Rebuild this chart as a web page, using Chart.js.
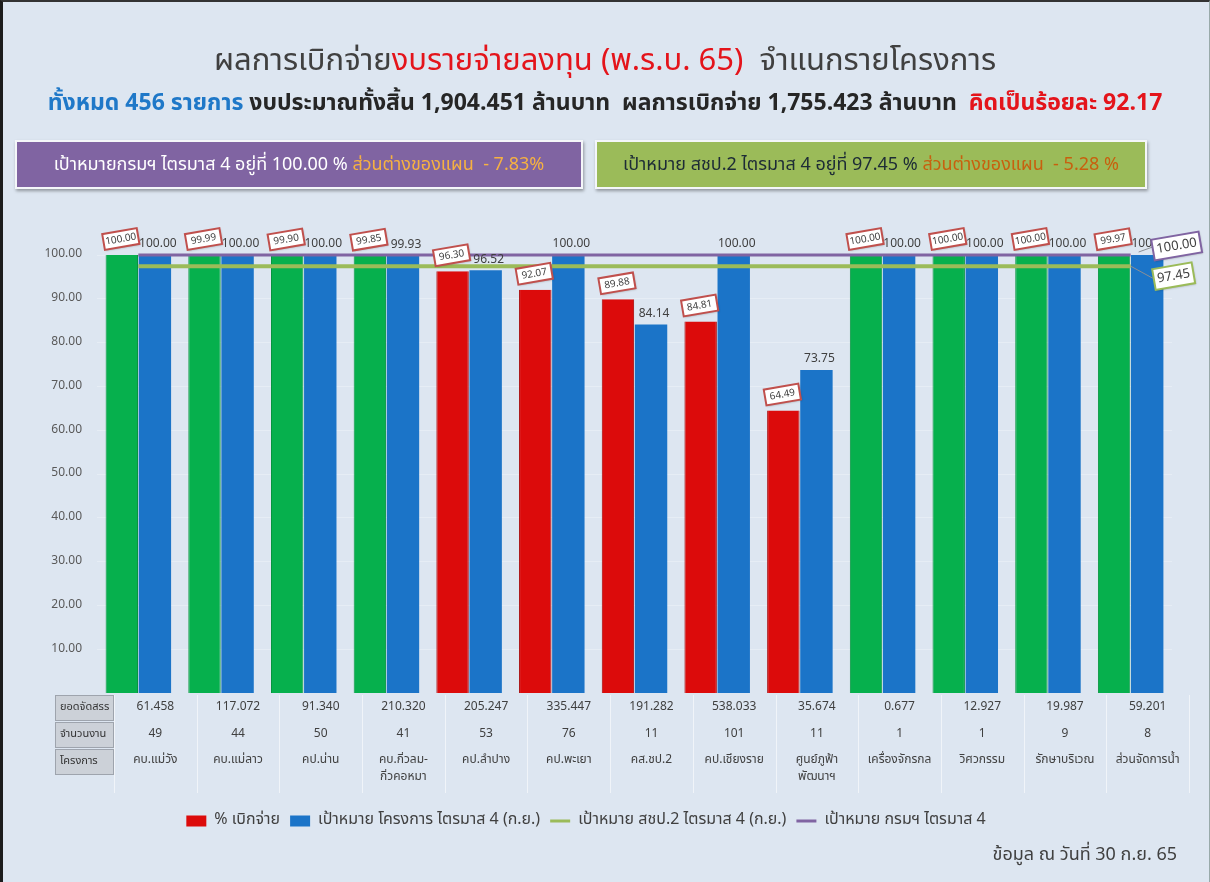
<!DOCTYPE html>
<html><head><meta charset="utf-8">
<script src="https://cdn.jsdelivr.net/npm/chart.js@4"></script>
<style>
html,body{margin:0;padding:0}
body{width:1210px;height:882px;overflow:hidden;position:relative;background:#dde6f1;font-family:"Noto Sans Thai","Noto Sans","Leelawadee UI",Tahoma,"DejaVu Sans",sans-serif}
#frame{position:absolute;left:0;top:0;width:1206px;height:880px;border-left:3px solid #1c1c1c;border-top:2px solid #333;border-right:1px solid #9aa;pointer-events:none;z-index:5}
#title{position:absolute;left:0;top:37px;width:1210px;text-align:center;font-size:31px;color:#404040;white-space:nowrap;z-index:3}
#sub{position:absolute;left:0;top:86px;width:1210px;text-align:center;font-size:23px;font-weight:bold;color:#262626;white-space:nowrap;z-index:3}
.box{position:absolute;top:140px;height:45px;border:2px solid #f4f6f9;box-shadow:1px 2px 3px rgba(0,0,0,.35);display:flex;align-items:center;justify-content:center;font-size:18px;white-space:nowrap;z-index:3}
#b1{left:15px;width:564px;background:#8064a2;color:#fff}
#b2{left:595px;width:548px;background:#9bbb59;color:#1d2b36}
#foot{position:absolute;right:33px;top:841px;font-size:18px;color:#404040;z-index:3}
canvas{position:absolute;left:0;top:0}
</style></head>
<body>
<div id="frame"></div>
<div id="title">ผลการเบิกจ่าย<span style="color:#e4141b">งบรายจ่ายลงทุน (พ.ร.บ. 65)</span>&nbsp; จำแนกรายโครงการ</div>
<div id="sub"><span style="color:#1f78c8">ทั้งหมด 456 รายการ</span> งบประมาณทั้งสิ้น 1,904.451 ล้านบาท&nbsp; ผลการเบิกจ่าย 1,755.423 ล้านบาท&nbsp; <span style="color:#e4141b">คิดเป็นร้อยละ 92.17</span></div>
<div class="box" id="b1">เป้าหมายกรมฯ ไตรมาส 4 อยู่ที่ 100.00 %&nbsp; <span style="color:#f6b141">ส่วนต่างของแผน&nbsp; - 7.83%</span></div>
<div class="box" id="b2">เป้าหมาย สชป.2 ไตรมาส 4 อยู่ที่ 97.45 %&nbsp; <span style="color:#c8600e">ส่วนต่างของแผน&nbsp; - 5.28 %</span></div>
<div id="foot">ข้อมูล ณ วันที่ 30 ก.ย. 65</div>
<div style="position:absolute;left:0;top:0;width:1210px;height:882px;z-index:2"><canvas id="c" width="1210" height="882"></canvas></div>
<script>
// ---- data ----
const projects = ["คบ.แม่วัง","คบ.แม่ลาว","คป.น่าน",["คบ.กิ่วลม-","กิ่วคอหมา"],"คป.ลำปาง","คป.พะเยา","คส.ชป.2","คป.เชียงราย",["ศูนย์ภูฟ้า","พัฒนาฯ"],"เครื่องจักรกล","วิศวกรรม","รักษาบริเวณ","ส่วนจัดการน้ำ"];
const disbursedPct = [100.00, 99.99, 99.90, 99.85, 96.30, 92.07, 89.88, 84.81, 64.49, 100.00, 100.00, 100.00, 99.97];
const projectTarget = [100.00, 100.00, 100.00, 99.93, 96.52, 100.00, 84.14, 100.00, 73.75, 100.00, 100.00, 100.00, 100.00];
const regionTarget = [97.45, 97.45, 97.45, 97.45, 97.45, 97.45, 97.45, 97.45, 97.45, 97.45, 97.45, 97.45, 97.45];
const deptTarget = [100, 100, 100, 100, 100, 100, 100, 100, 100, 100, 100, 100, 100];
const budgetAlloc = ["61.458","117.072","91.340","210.320","205.247","335.447","191.282","538.033","35.674","0.677","12.927","19.987","59.201"];
const jobCount = ["49","44","50","41","53","76","11","101","11","1","1","9","8"];
const rowLabels = ["ยอดจัดสรร","จำนวนงาน","โครงการ"];
const yTicks = [10,20,30,40,50,60,70,80,90,100];
const seriesNames = ["% เบิกจ่าย","เป้าหมาย โครงการ ไตรมาส 4 (ก.ย.)","เป้าหมาย สชป.2 ไตรมาส 4 (ก.ย.)","เป้าหมาย กรมฯ ไตรมาส 4"];

const FONT = '"Noto Sans Thai","Noto Sans","Leelawadee UI",Tahoma,"DejaVu Sans",sans-serif';
Chart.defaults.font.family = FONT;
const GREEN='#06b04d', RED='#dc0b0b', BLUE='#1b74c8', LGREEN='#9bbb59', PURPLE='#8064a2';
const thr = regionTarget[0];
const barColors = disbursedPct.map(v => v >= thr ? GREEN : RED);
const fmt = v => v.toFixed(2);

function roundBox(ctx, cx, cy, w, h, ang, border, text, font, lw){
  ctx.save();
  ctx.translate(cx, cy); ctx.rotate(ang);
  ctx.shadowColor='rgba(0,0,0,0.25)'; ctx.shadowBlur=2; ctx.shadowOffsetX=1; ctx.shadowOffsetY=1;
  ctx.fillStyle='#fff'; ctx.fillRect(-w/2,-h/2,w,h);
  ctx.shadowColor='transparent';
  ctx.lineWidth=lw; ctx.strokeStyle=border; ctx.strokeRect(-w/2,-h/2,w,h);
  ctx.fillStyle='#404040'; ctx.font=font; ctx.textAlign='center'; ctx.textBaseline='middle';
  ctx.fillText(text,0,1);
  ctx.restore();
}

const labelPlugin = {
  id:'labels',
  afterDatasetsDraw(chart){
    const ctx = chart.ctx;
    const mT = chart.getDatasetMeta(1), mD = chart.getDatasetMeta(0);
    const mG = chart.getDatasetMeta(2), mP = chart.getDatasetMeta(3);
    ctx.save();
    ctx.font = '12px '+FONT; ctx.fillStyle='#404040'; ctx.textAlign='center'; ctx.textBaseline='bottom';
    mT.data.forEach((b,i)=>{ ctx.fillText(fmt(projectTarget[i]), b.x+3, b.y-4); });
    ctx.restore();
    mD.data.forEach((b,i)=>{
      roundBox(ctx, b.x-1, b.y-16, 35, 16, -0.17, '#c0504d', fmt(disbursedPct[i]), '10px '+FONT, 2);
    });
    const n = projects.length-1;
    const pp = mP.data[n], pg = mG.data[n];
    ctx.save();
    ctx.strokeStyle='#8a8f96'; ctx.lineWidth=1;
    ctx.beginPath(); ctx.moveTo(pp.x+8, pp.y-3); ctx.lineTo(pp.x+22, pp.y-8); ctx.stroke();
    ctx.beginPath(); ctx.moveTo(pg.x, pg.y); ctx.lineTo(pg.x+22, pg.y+12); ctx.stroke();
    ctx.restore();
    roundBox(ctx, pp.x+46, pp.y-9, 48, 21, -0.17, PURPLE, fmt(deptTarget[n]), '13px '+FONT, 2);
    roundBox(ctx, pg.x+43, pg.y+10, 40, 21, -0.17, LGREEN, fmt(regionTarget[n]), '13px '+FONT, 2);
  }
};

const tablePlugin = {
  id:'table',
  afterDraw(chart){
    const ctx = chart.ctx, xs = chart.scales.x, top = chart.chartArea.bottom;
    const colW = xs.width / projects.length;
    const off = 17;
    const rowY = [top+15, top+42, top+68];
    ctx.save();
    ctx.strokeStyle='rgba(255,255,255,0.55)'; ctx.lineWidth=1;
    for(let i=0;i<=projects.length;i++){
      const x = Math.round(xs.getPixelForValue(i) + off - colW/2)+0.5;
      ctx.beginPath(); ctx.moveTo(x, top+2); ctx.lineTo(x, top+100); ctx.stroke();
    }
    rowLabels.forEach((t,r)=>{
      const y0 = top+2 + r*27;
      ctx.fillStyle='#ccd1d8'; ctx.fillRect(55, y0, 58, 25);
      ctx.strokeStyle='#9ea4ad'; ctx.lineWidth=1; ctx.strokeRect(55.5, y0+0.5, 58, 25);
      ctx.fillStyle='#333'; ctx.font='11px '+FONT; ctx.textAlign='left'; ctx.textBaseline='middle';
      ctx.fillText(t, 60, y0+13);
    });
    ctx.fillStyle='#404040'; ctx.font='12px '+FONT; ctx.textAlign='center'; ctx.textBaseline='middle';
    projects.forEach((p,i)=>{
      const cx = xs.getPixelForValue(i) + off;
      ctx.fillText(budgetAlloc[i], cx, rowY[0]);
      ctx.fillText(jobCount[i], cx, rowY[1]);
      const lines = Array.isArray(p) ? p : [p];
      lines.forEach((l,k)=> ctx.fillText(l, cx, rowY[2] + k*17));
    });
    ctx.restore();
  }
};

new Chart(document.getElementById('c'), {
  data:{
    labels: projects,
    datasets:[
      {type:'bar', label:seriesNames[0], data:disbursedPct, backgroundColor:barColors, borderColor:barColors.map(c=>c===GREEN?'#07943f':'#a80000'), borderWidth:{left:1,right:1,top:0,bottom:0}, order:2, categoryPercentage:0.8, barPercentage:0.98},
      {type:'bar', label:seriesNames[1], data:projectTarget, backgroundColor:BLUE, borderWidth:0, order:2, categoryPercentage:0.8, barPercentage:0.98},
      {type:'line', label:seriesNames[2], data:regionTarget, borderColor:LGREEN, backgroundColor:LGREEN, borderWidth:4, pointRadius:0, order:1, clip:false},
      {type:'line', label:seriesNames[3], data:deptTarget, borderColor:PURPLE, backgroundColor:PURPLE, borderWidth:3, pointRadius:0, order:0, clip:false}
    ]
  },
  options:{
    responsive:false, animation:false,
    layout:{padding:{top:255, left:0, right:38, bottom:43}},
    plugins:{
      tooltip:{enabled:false},
      legend:{
        position:'bottom',
        labels:{
          usePointStyle:true, pointStyleWidth:20, boxHeight:11, padding:10,
          color:'#404040', font:{size:16, family:FONT},
          sort:(a,b)=>a.datasetIndex-b.datasetIndex,
          generateLabels(chart){
            const fills=[RED,BLUE,LGREEN,PURPLE];
            return seriesNames.map((n,i)=>({
              text:n, datasetIndex:i, fillStyle:fills[i], strokeStyle:fills[i],
              lineWidth: i<2?0:3, pointStyle: i<2?'rect':'line', hidden:false, fontColor:'#404040'
            }));
          }
        }
      }
    },
    scales:{
      x:{
        grid:{display:false}, border:{display:false},
        ticks:{display:false},
        afterFit(s){ s.height = 110; }
      },
      y:{
        min:0, max:100,
        afterFit(s){ s.width = 97; },
        afterBuildTicks(s){ s.ticks = yTicks.map(v=>({value:v})); },
        grid:{color:'rgba(255,255,255,0.28)', drawTicks:false},
        border:{display:false},
        ticks:{padding:15, color:'#595959', font:{size:12}, callback:v=>fmt(v)}
      }
    }
  },
  plugins:[labelPlugin, tablePlugin]
});
</script>
</body></html>
